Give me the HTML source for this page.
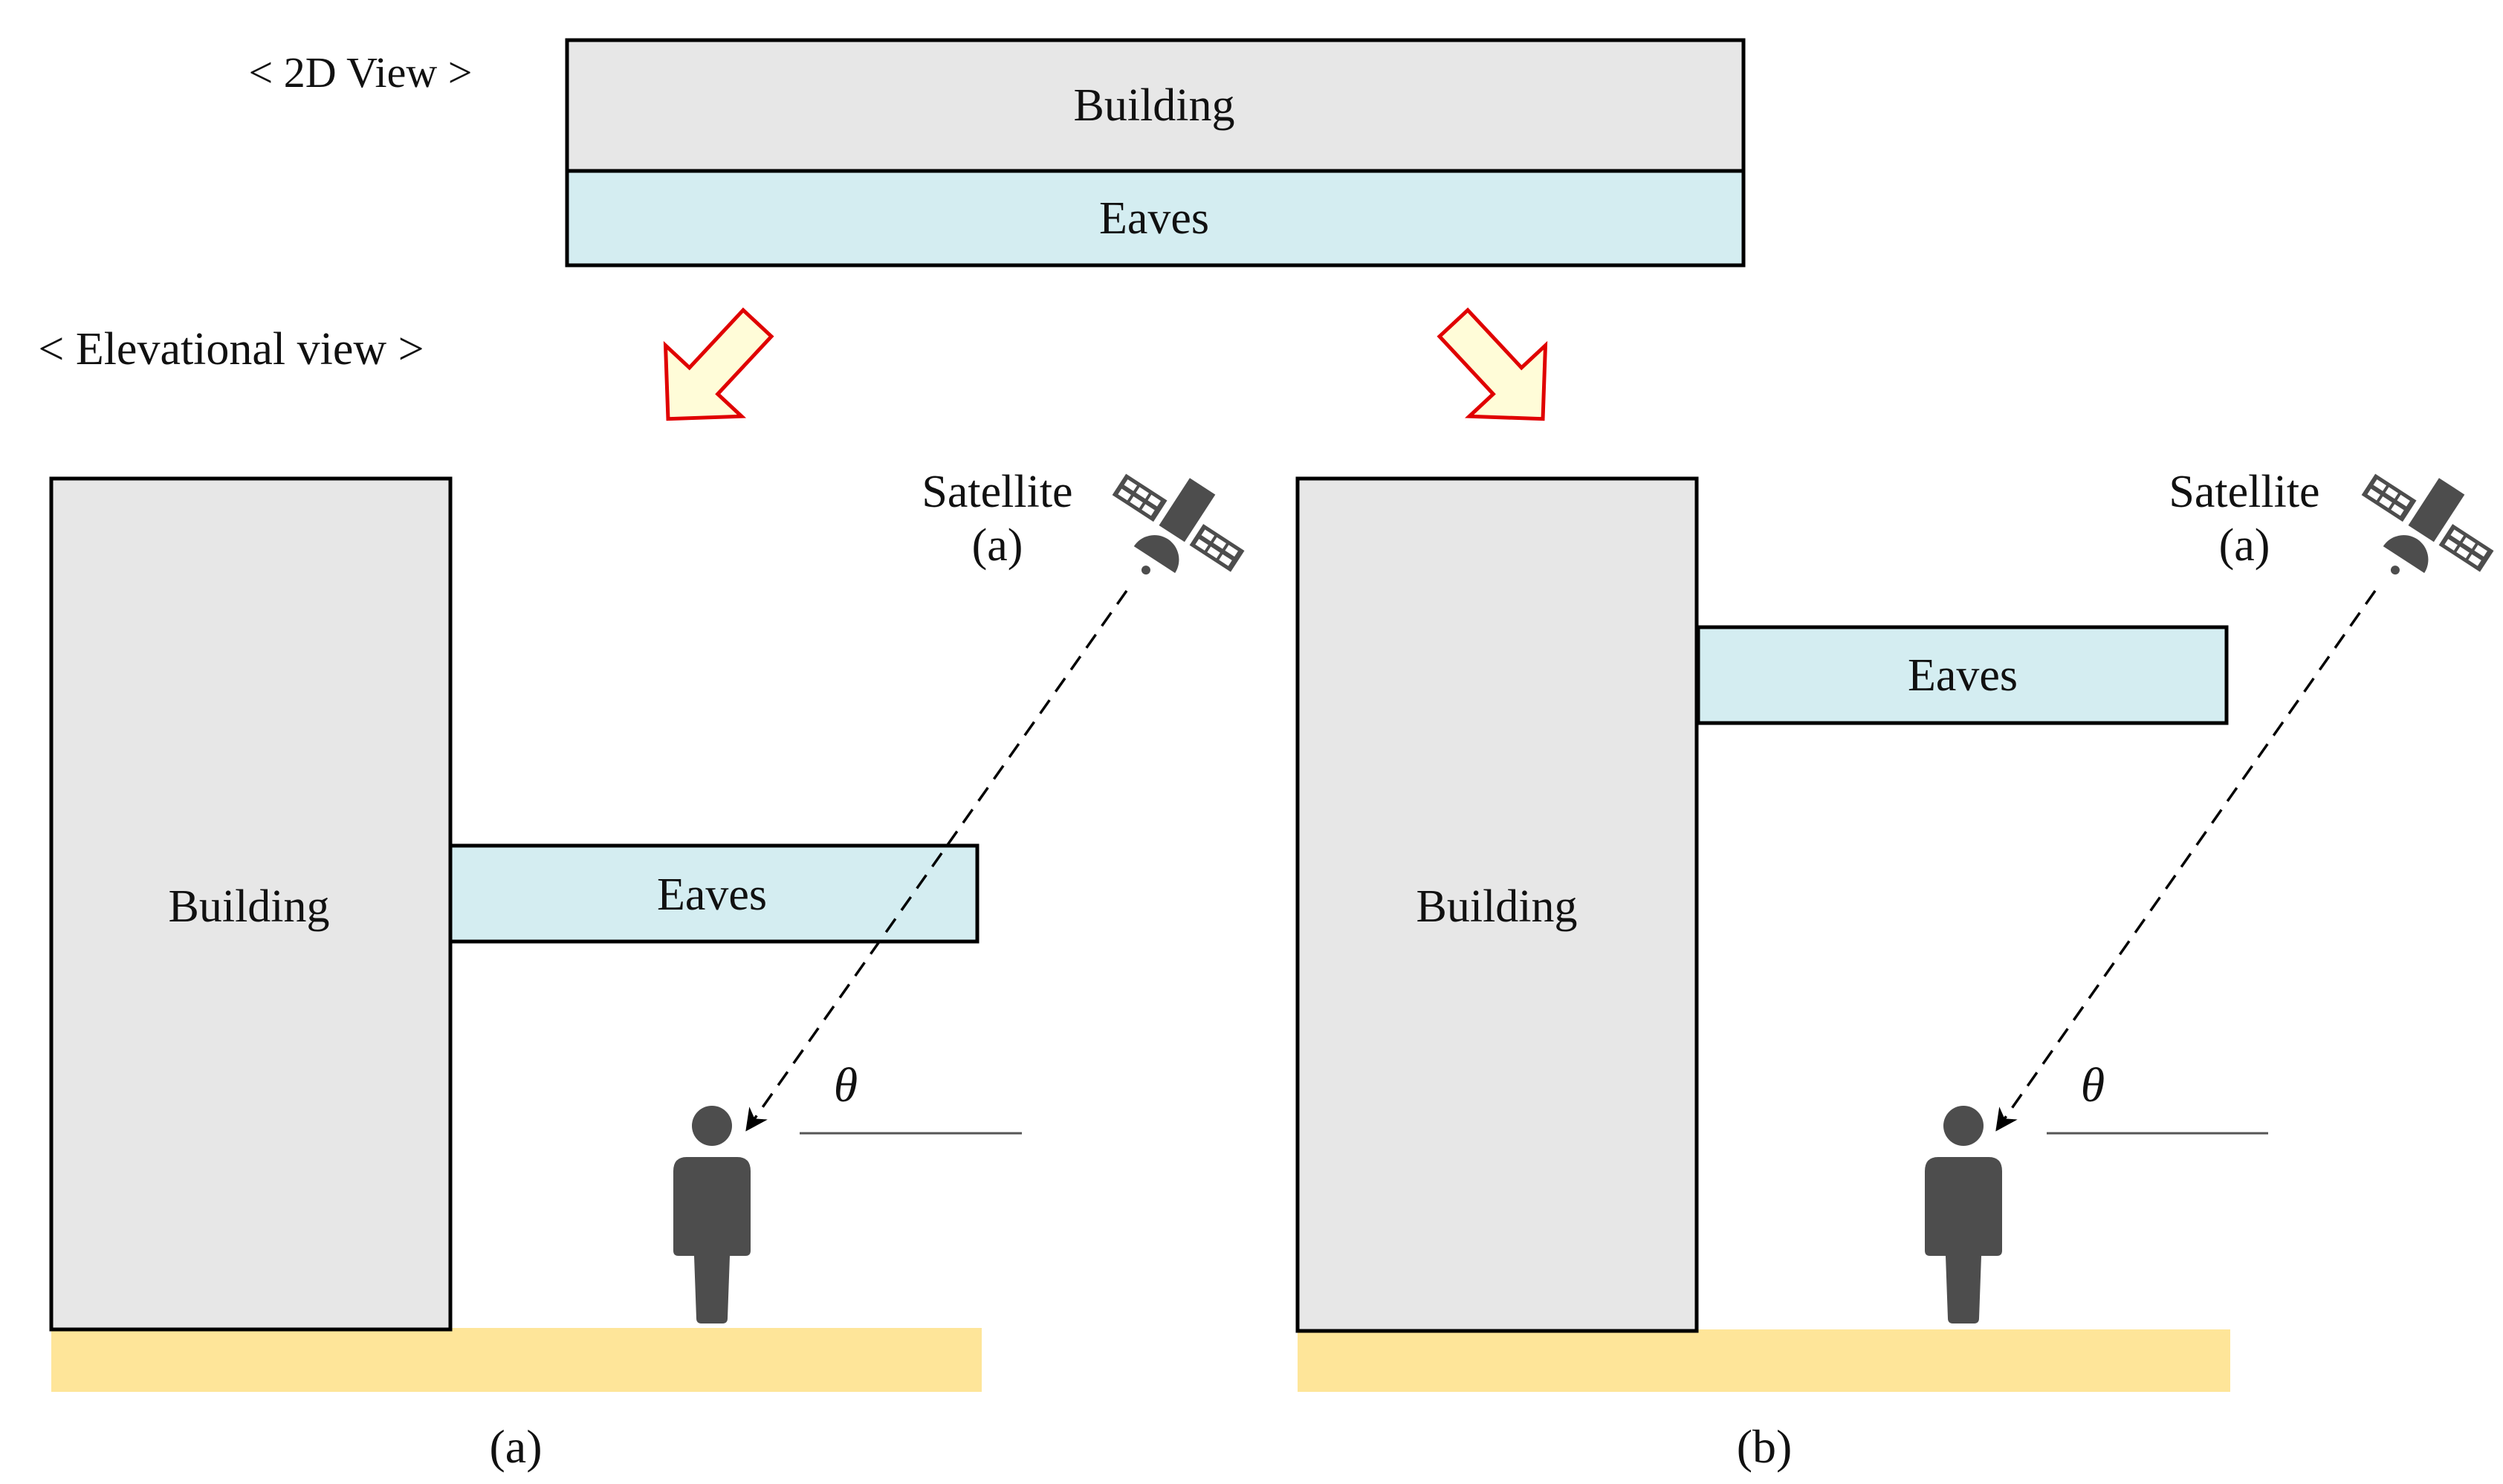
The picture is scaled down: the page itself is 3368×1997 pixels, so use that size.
<!DOCTYPE html>
<html><head><meta charset="utf-8"><style>html,body{margin:0;padding:0;background:#fff}svg{display:block}</style></head>
<body>
<svg width="3368" height="1997" viewBox="0 0 3368 1997" xmlns="http://www.w3.org/2000/svg" font-family="'Liberation Serif', serif" fill="#111">
<defs>
<g id="sat">
  <g transform="rotate(33)">
    <rect x="-20" y="-38" width="41" height="76" fill="#4d4d4d"/>
    <g transform="translate(-62,21)">
      <rect x="-33" y="-17" width="66" height="34" fill="#4d4d4d"/>
      <g fill="#fff"><rect x="-27" y="-12" width="15" height="9"/><rect x="-8" y="-12" width="15" height="9"/><rect x="11" y="-12" width="15" height="9"/><rect x="-27" y="3" width="15" height="9"/><rect x="-8" y="3" width="15" height="9"/><rect x="11" y="3" width="15" height="9"/></g>
    </g>
    <g transform="translate(62,21)">
      <rect x="-33" y="-17" width="66" height="34" fill="#4d4d4d"/>
      <g fill="#fff"><rect x="-27" y="-12" width="15" height="9"/><rect x="-8" y="-12" width="15" height="9"/><rect x="11" y="-12" width="15" height="9"/><rect x="-27" y="3" width="15" height="9"/><rect x="-8" y="3" width="15" height="9"/><rect x="11" y="3" width="15" height="9"/></g>
    </g>
    <path d="M-33,80 A33,33 0 0 1 33,80 Z" fill="#4d4d4d"/>
    <circle cx="-2" cy="98" r="6" fill="#4d4d4d"/>
  </g>
</g>
<g id="person" fill="#4d4d4d">
  <circle cx="0" cy="0" r="27"/>
  <path d="M-52,61 Q-52,42 -34,42 L34,42 Q52,42 52,61 L52,168 Q52,175 45,175 L24,175 L21,259 Q21,266 14,266 L-14,266 Q-21,266 -21,259 L-24,175 L-45,175 Q-52,175 -52,168 Z"/>
</g>
<marker id="ah2" viewBox="0 0 10 10" refX="9" refY="5" markerWidth="30" markerHeight="30" markerUnits="userSpaceOnUse" orient="auto"><path d="M0,0 L10,5 L0,10 L3,5 Z" fill="#000"/></marker>
</defs>

<!-- 2D view -->
<text x="485" y="117" font-size="58" text-anchor="middle">&lt; 2D View &gt;</text>
<rect x="763" y="54" width="1583" height="176" fill="#e7e7e7" stroke="#000" stroke-width="5"/>
<rect x="763" y="230" width="1583" height="127" fill="#d4edf1" stroke="#000" stroke-width="5"/>
<text x="1553" y="162" font-size="62" text-anchor="middle">Building</text>
<text x="1553" y="314" font-size="62" text-anchor="middle">Eaves</text>

<text x="311" y="490" font-size="62" text-anchor="middle">&lt; Elevational view &gt;</text>

<!-- block arrows -->
<g fill="#fffcd8" stroke="#e00000" stroke-width="5" stroke-linejoin="miter">
  <polygon transform="translate(1019,435) rotate(133)" points="0,-26 106,-26 106,-70 176,0 106,70 106,26 0,26"/>
  <polygon transform="translate(1956,435) rotate(47)" points="0,-26 106,-26 106,-70 176,0 106,70 106,26 0,26"/>
</g>

<!-- panel a -->
<rect x="69" y="1787" width="1252" height="86" fill="#fee599"/>
<rect x="69" y="644" width="537" height="1145" fill="#e7e7e7" stroke="#000" stroke-width="5"/>
<rect x="606" y="1138" width="709" height="129" fill="#d4edf1" stroke="#000" stroke-width="5"/>
<text x="335" y="1240" font-size="62" text-anchor="middle">Building</text>
<text x="958" y="1224" font-size="62" text-anchor="middle">Eaves</text>
<use href="#person" x="958" y="1515"/>
<line x1="1076" y1="1525" x2="1375" y2="1525" stroke="#555" stroke-width="3"/>
<text x="1138" y="1482" font-size="66" font-style="italic" text-anchor="middle">θ</text>
<line x1="1516" y1="795" x2="1005" y2="1520" stroke="#000" stroke-width="3.5" stroke-dasharray="22,14" marker-end="url(#ah2)"/>
<use href="#sat" x="1597" y="686"/>
<text x="1342" y="682" font-size="62" text-anchor="middle">Satellite</text>
<text x="1342" y="754" font-size="62" text-anchor="middle">(a)</text>
<text x="694" y="1968" font-size="64" text-anchor="middle">(a)</text>

<!-- panel b -->
<rect x="1746" y="1789" width="1255" height="84" fill="#fee599"/>
<rect x="1746" y="644" width="537" height="1147" fill="#e7e7e7" stroke="#000" stroke-width="5"/>
<rect x="2285" y="844" width="711" height="129" fill="#d4edf1" stroke="#000" stroke-width="5"/>
<text x="2014" y="1240" font-size="62" text-anchor="middle">Building</text>
<text x="2641" y="929" font-size="62" text-anchor="middle">Eaves</text>
<use href="#person" x="2642" y="1515"/>
<line x1="2754" y1="1525" x2="3052" y2="1525" stroke="#555" stroke-width="3"/>
<text x="2816" y="1482" font-size="66" font-style="italic" text-anchor="middle">θ</text>
<line x1="3196" y1="795" x2="2687" y2="1520" stroke="#000" stroke-width="3.5" stroke-dasharray="22,14" marker-end="url(#ah2)"/>
<use href="#sat" x="3278" y="686"/>
<text x="3020" y="682" font-size="62" text-anchor="middle">Satellite</text>
<text x="3020" y="754" font-size="62" text-anchor="middle">(a)</text>
<text x="2374" y="1968" font-size="64" text-anchor="middle">(b)</text>
</svg>
</body></html>
